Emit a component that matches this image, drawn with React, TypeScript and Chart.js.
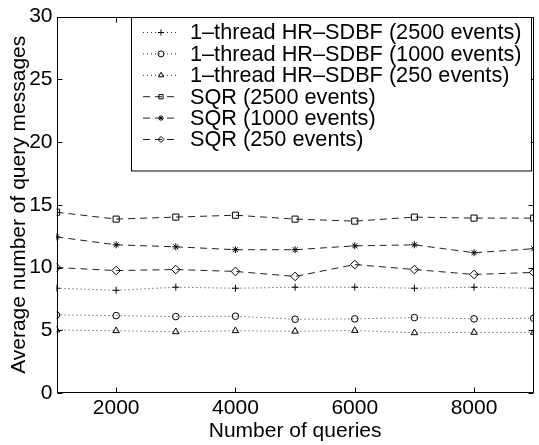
import React, { useEffect, useRef } from 'react';
import { Chart, registerables } from 'chart.js';

Chart.register(...registerables);

const queries = [1000, 2000, 3000, 4000, 5000, 6000, 7000, 8000, 9000];
const hr2500 = [8.35, 8.19, 8.43, 8.35, 8.43, 8.43, 8.35, 8.43, 8.35];
const hr1000 = [6.22, 6.17, 6.09, 6.12, 5.88, 5.91, 6.01, 5.91, 5.96];
const hr250 = [5.02, 4.96, 4.88, 4.96, 4.92, 4.98, 4.8, 4.83, 4.83];
const sqr2500 = [14.41, 13.86, 14.02, 14.17, 13.86, 13.7, 14.02, 13.94, 13.94];
const sqr1000 = [12.44, 11.81, 11.65, 11.42, 11.42, 11.73, 11.81, 11.18, 11.5];
const sqr250 = [10.0, 9.76, 9.84, 9.69, 9.29, 10.24, 9.84, 9.45, 9.61];

const seriesLabels = [
  '1\u2013thread HR\u2013SDBF (2500 events)',
  '1\u2013thread HR\u2013SDBF (1000 events)',
  '1\u2013thread HR\u2013SDBF (250 events)',
  'SQR (2500 events)',
  'SQR (1000 events)',
  'SQR (250 events)',
];
const xTicks = [2000, 4000, 6000, 8000];
const yTicks = [0, 5, 10, 15, 20, 25, 30];
const xTitle = 'Number of queries';
const yTitle = 'Average number of query messages';

const FONT = '"Liberation Sans", Arial, Helvetica, sans-serif';

function drawMarker(ctx: CanvasRenderingContext2D, style: string, x: number, y: number, r: number) {
  ctx.beginPath();
  switch (style) {
    case 'cross':
      ctx.moveTo(x - r, y); ctx.lineTo(x + r, y);
      ctx.moveTo(x, y - r); ctx.lineTo(x, y + r);
      break;
    case 'circle':
      ctx.arc(x, y, r, 0, Math.PI * 2);
      break;
    case 'triangle': {
      let a = 0;
      ctx.moveTo(x + Math.sin(a) * r, y - Math.cos(a) * r);
      a += (2 * Math.PI) / 3;
      ctx.lineTo(x + Math.sin(a) * r, y - Math.cos(a) * r);
      a += (2 * Math.PI) / 3;
      ctx.lineTo(x + Math.sin(a) * r, y - Math.cos(a) * r);
      ctx.closePath();
      break;
    }
    case 'rect': {
      const s = Math.SQRT1_2 * r;
      ctx.rect(x - s, y - s, 2 * s, 2 * s);
      break;
    }
    case 'star': {
      ctx.moveTo(x - r, y); ctx.lineTo(x + r, y);
      ctx.moveTo(x, y - r); ctx.lineTo(x, y + r);
      const d = r * Math.SQRT1_2;
      ctx.moveTo(x - d, y - d); ctx.lineTo(x + d, y + d);
      ctx.moveTo(x - d, y + d); ctx.lineTo(x + d, y - d);
      break;
    }
    case 'rectRot':
      ctx.moveTo(x - r, y); ctx.lineTo(x, y - r); ctx.lineTo(x + r, y); ctx.lineTo(x, y + r);
      ctx.closePath();
      break;
  }
  ctx.stroke();
}

const framePlugin = {
  id: 'frameAndLegend',
  afterDraw(chart: any) {
    const ctx: CanvasRenderingContext2D = chart.ctx;
    const { left, right, top, bottom } = chart.chartArea;
    const xs = chart.scales.x;
    const ys = chart.scales.y;
    ctx.save();
    ctx.strokeStyle = '#000';
    ctx.lineWidth = 1;
    ctx.setLineDash([]);
    const L = Math.round(left) + 0.5, R = Math.round(right) - 0.5;
    const T = Math.round(top) + 0.5, B = Math.round(bottom) - 0.5;
    ctx.strokeRect(L, T, R - L, B - T);
    const tl = 5;
    ctx.beginPath();
    xTicks.forEach((v) => {
      const px = Math.round(xs.getPixelForValue(v)) + 0.5;
      ctx.moveTo(px, B); ctx.lineTo(px, B - tl);
      ctx.moveTo(px, T); ctx.lineTo(px, T + tl);
    });
    yTicks.forEach((v) => {
      const py = Math.round(ys.getPixelForValue(v)) + 0.5;
      ctx.moveTo(L, py); ctx.lineTo(L + tl, py);
      ctx.moveTo(R, py); ctx.lineTo(R - tl, py);
    });
    ctx.stroke();

    // legend
    const bx = 131.5, by = 17.5, bw = 400, bh = 153.5;
    ctx.fillStyle = '#fff';
    ctx.fillRect(bx, by, bw, bh);
    ctx.strokeRect(bx, by, bw, bh);
    const rowH = 21.4;
    ctx.font = `21.7px ${FONT}`;
    ctx.textBaseline = 'middle';
    ctx.textAlign = 'left';
    chart.data.datasets.forEach((ds: any, i: number) => {
      const cy = 32.5 + i * rowH;
      ctx.strokeStyle = ds.borderColor;
      ctx.lineWidth = 1;
      ctx.setLineDash(ds.borderDash || []);
      ctx.beginPath();
      ctx.moveTo(143, cy); ctx.lineTo(179, cy);
      ctx.stroke();
      ctx.setLineDash([]);
      ctx.strokeStyle = '#000';
      drawMarker(ctx, ds.pointStyle, 161, cy, Math.min(ds.pointRadius, 3));
      ctx.fillStyle = '#000';
      ctx.fillText(ds.label, 190, cy + 1);
    });
    ctx.restore();
  },
};

function mk(label: string, values: number[], style: string, radius: number, dash: number[], color: string) {
  return {
    label,
    data: queries.map((q, i) => ({ x: q, y: values[i] })),
    borderColor: color,
    borderWidth: 1,
    borderDash: dash,
    pointStyle: style,
    pointRadius: radius,
    pointBorderColor: '#000',
    pointBackgroundColor: 'rgba(0,0,0,0)',
    pointBorderWidth: 1,
    fill: false,
    tension: 0,
  };
}

export default function App() {
  const ref = useRef<HTMLCanvasElement | null>(null);
  useEffect(() => {
    if (!ref.current) return;
    const dotted = [1, 3];
    const dashed = [7, 5];
    const chart = new Chart(ref.current, {
      type: 'line',
      data: {
        datasets: [
          mk(seriesLabels[0], hr2500, 'cross', 3.5, dotted, '#333'),
          mk(seriesLabels[1], hr1000, 'circle', 3.3, dotted, '#333'),
          mk(seriesLabels[2], hr250, 'triangle', 3.8, dotted, '#333'),
          mk(seriesLabels[3], sqr2500, 'rect', 4.3, dashed, '#222'),
          mk(seriesLabels[4], sqr1000, 'star', 3.5, dashed, '#222'),
          mk(seriesLabels[5], sqr250, 'rectRot', 4.3, dashed, '#222'),
        ] as any,
      },
      options: {
        responsive: false,
        animation: false,
        layout: { padding: { top: 12, left: 0, right: 2, bottom: 0 } },
        plugins: { legend: { display: false }, tooltip: { enabled: false } },
        scales: {
          x: {
            type: 'linear',
            min: 1000,
            max: 9000,
            grid: { display: false, drawTicks: false },
            border: { display: false },
            afterBuildTicks: (s: any) => { s.ticks = xTicks.map((v) => ({ value: v })); },
            afterFit: (s: any) => { s.height = 52; },
            ticks: { color: '#000', font: { family: FONT, size: 21 }, padding: 3, maxRotation: 0, callback: (v: any) => String(v) },
            title: { display: true, text: xTitle, color: '#000', font: { family: FONT, size: 21 }, padding: { top: 0, bottom: 1 } },
          },
          y: {
            type: 'linear',
            min: 0,
            max: 30,
            grid: { display: false, drawTicks: false },
            border: { display: false },
            afterBuildTicks: (s: any) => { s.ticks = yTicks.map((v) => ({ value: v })); },
            afterFit: (s: any) => { s.width = 56.5; },
            ticks: { color: '#000', font: { family: FONT, size: 21 }, padding: 4, callback: (v: any) => String(v) },
            title: { display: true, text: yTitle, color: '#000', font: { family: FONT, size: 21 }, padding: { top: 7, bottom: 0 } },
          },
        },
      } as any,
      plugins: [framePlugin],
    });
    return () => chart.destroy();
  }, []);
  return (
    <div style={{ position: 'fixed', left: 0, top: 0, width: 539, height: 445, background: '#fff' }}>
      <canvas ref={ref} width={539} height={445} style={{ display: 'block' }} />
    </div>
  );
}
